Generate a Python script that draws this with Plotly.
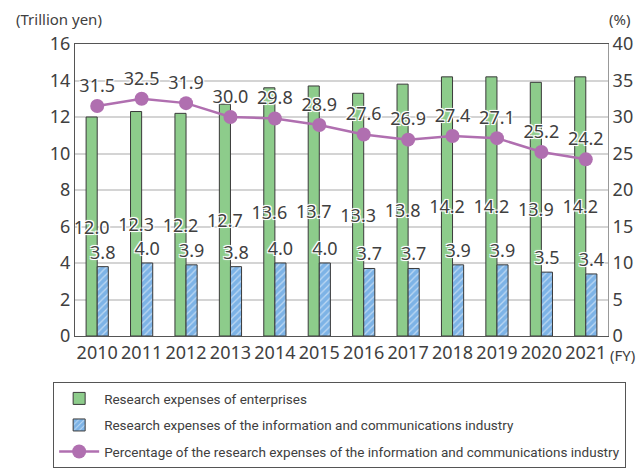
import plotly.graph_objects as go

years = ["2010", "2011", "2012", "2013", "2014", "2015", "2016", "2017", "2018", "2019", "2020", "2021"]
enterprise = [12.0, 12.3, 12.2, 12.7, 13.6, 13.7, 13.3, 13.8, 14.2, 14.2, 13.9, 14.2]
ict = [3.8, 4.0, 3.9, 3.8, 4.0, 4.0, 3.7, 3.7, 3.9, 3.9, 3.5, 3.4]
share = [31.5, 32.5, 31.9, 30.0, 29.8, 28.9, 27.6, 26.9, 27.4, 27.1, 25.2, 24.2]

name_ent = "Research expenses of enterprises"
name_ict = "Research expenses of the information and communications industry"
name_share = "Percentage of the research expenses of the information and communications industry"

TXT = "#404040"
HALO = "1px 1px 0 #fff, -1px -1px 0 #fff, 1px -1px 0 #fff, -1px 1px 0 #fff, 0 0 3px #fff"
NUMFONT = "Noto Sans, DejaVu Sans, sans-serif"
LEGFONT = "Roboto, Noto Sans, sans-serif"

fig = go.Figure()
fig.add_trace(go.Bar(
    x=years, y=enterprise, name=name_ent, legendgroup="a",
    marker=dict(color="#8dcc8b", line=dict(color="#3a3a3a", width=1)),
    text=[f"{v:.1f}" for v in enterprise], textposition="inside",
    insidetextanchor="middle", textangle=0, constraintext="none",
    insidetextfont=dict(family=NUMFONT, size=18, color=TXT, shadow=HALO),
    cliponaxis=False,
))
fig.add_trace(go.Bar(
    x=years, y=ict, name=name_ict, legendgroup="b",
    marker=dict(color="#7db3e6", line=dict(color="#3a3a3a", width=1),
                pattern=dict(shape="/", fgcolor="white", bgcolor="#7db3e6", size=5, solidity=0.25)),
    text=[f"{v:.1f}" for v in ict], textposition="outside", textangle=0, constraintext="none",
    outsidetextfont=dict(family=NUMFONT, size=18, color=TXT, shadow=HALO),
    cliponaxis=False,
))
fig.add_trace(go.Scatter(
    x=years, y=share, name=name_share, yaxis="y2", legendgroup="c",
    mode="lines+markers+text",
    line=dict(color="#b06fb0", width=2.5),
    marker=dict(color="#b06fb0", size=14),
    text=[f"{v:.1f}" for v in share], textposition="top center",
    textfont=dict(family=NUMFONT, size=18, color=TXT, shadow=HALO),
    cliponaxis=False,
))

# page body adds an 8px offset, so the figure is 8px smaller and margins compensate
fig.update_layout(
    width=636, height=466,
    margin=dict(l=67, r=36, t=36, b=138, autoexpand=False),
    paper_bgcolor="white", plot_bgcolor="white",
    barmode="group", bargap=0.5, bargroupgap=0,
    font=dict(family=NUMFONT, size=18, color=TXT),
    showlegend=True,
    legend=dict(
        x=-0.041, y=-0.158, xanchor="left", yanchor="top",
        bordercolor="#555555", borderwidth=1,
        font=dict(family=LEGFONT, size=13.5, color=TXT),
        itemwidth=40, traceorder="grouped", tracegroupgap=6,
    ),
    xaxis=dict(
        type="category", range=[-0.5, len(years) - 0.5], autorange=False,
        showline=True, linecolor="#555555", linewidth=1, mirror=True,
        tickfont=dict(size=18, color=TXT), ticks="", tickangle=0, automargin=False,
    ),
    yaxis=dict(
        range=[0, 16], dtick=2, showgrid=True, gridcolor="#d4d4d4", gridwidth=1.5,
        showline=True, linecolor="#555555", linewidth=1, ticks="",
        tickfont=dict(size=18, color=TXT), zeroline=False, automargin=False,
    ),
    yaxis2=dict(
        range=[0, 40], dtick=5, overlaying="y", side="right", showgrid=False,
        showline=True, linecolor="#999999", linewidth=1, ticks="",
        tickfont=dict(size=18, color=TXT), zeroline=False, automargin=False,
    ),
    annotations=[
        dict(text="(Trillion yen)", xref="paper", yref="paper", x=-0.115, y=1.045,
             xanchor="left", yanchor="bottom", showarrow=False, font=dict(size=15, color=TXT)),
        dict(text="(%)", xref="paper", yref="paper", x=1.045, y=1.045,
             xanchor="right", yanchor="bottom", showarrow=False, font=dict(size=15, color=TXT)),
        dict(text="(FY)", xref="paper", yref="paper", x=1.0, y=0, xshift=0, yshift=-7,
             xanchor="left", yanchor="top", showarrow=False, font=dict(size=15, color=TXT)),
    ],
)

fig.write_html("out.html")
